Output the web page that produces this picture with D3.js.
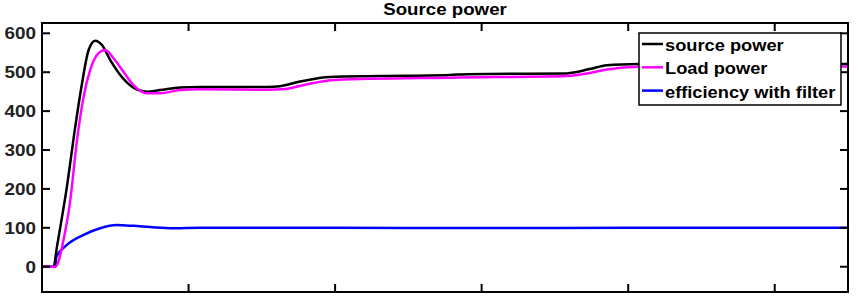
<!DOCTYPE html>
<html><head><meta charset="utf-8">
<script src="https://cdn.jsdelivr.net/npm/d3@7"></script>
<style>body{margin:0;background:#fff}svg{display:block}text{font-family:"Liberation Sans",Arial,sans-serif;font-weight:bold}</style>
</head><body><svg id="c" width="858" height="296"></svg>
<script>
const title = "Source power";
const seriesNames = ["source power", "Load power", "efficiency with filter"];
const seriesColors = ["#000000", "#ff00ff", "#0000ff"];
const yTicks = [0, 100, 200, 300, 400, 500, 600];
const xTicks = [1, 2, 3, 4, 5];
const sourceT = [0, 0.079, 0.102, 0.170, 0.227, 0.273, 0.318, 0.363, 0.409, 0.466, 0.534, 0.622, 0.716, 0.806, 0.943, 1.079, 1.534, 1.624, 1.761, 1.965, 2.306, 2.783, 2.899, 3.581, 3.738, 3.854, 4.078, 4.488, 5.5];
const sourceV = [0, 0, 51, 206, 360, 471, 557, 581, 570, 531, 493, 461, 450, 454, 461, 462, 462, 464, 476, 488, 490, 493, 495, 497, 508, 518, 521, 522, 521];
const loadT = [0, 0.091, 0.147, 0.193, 0.239, 0.284, 0.329, 0.386, 0.431, 0.488, 0.556, 0.624, 0.716, 0.806, 0.943, 1.079, 1.534, 1.658, 1.795, 2.0, 2.783, 3.581, 3.738, 3.854, 4.078, 5.5];
const loadV = [0, 0, 69, 171, 326, 437, 506, 549, 557, 536, 501, 467, 446, 446, 454, 456, 455, 457, 468, 480, 486, 490, 498, 507, 514, 515];
const effT = [0, 0.091, 0.097, 0.170, 0.284, 0.397, 0.511, 0.624, 0.738, 0.897, 1.079, 2.0, 3.0, 4.0, 5.5];
const effV = [0, 0, 24, 56, 82, 99, 107, 105, 102, 99, 100, 100, 99.5, 100, 100];

const svg = d3.select("#c");
const L = 42, R = 848, T = 23, B = 292;
const x = d3.scaleLinear().domain([0, 5.5]).range([L, R]);
const y = d3.scaleLinear().domain([-65, 626.5]).range([B, T]);

// title
svg.append("text").attr("transform", `translate(${(L+R)/2},15) scale(1.1,1)`)
  .attr("text-anchor", "middle").attr("font-size", 17).text(title);

const series = [
  {t: sourceT, v: sourceV, c: 0}, {t: loadT, v: loadV, c: 1}, {t: effT, v: effV, c: 2}
];
const drawOrder = [2, 0, 1];
const line = d3.line().x(d => x(d[0])).y(d => y(d[1])).curve(d3.curveMonotoneX);
const g = svg.append("g");
drawOrder.forEach(i => {
  const s = series[i];
  g.append("path").datum(s.t.map((t, k) => [t, s.v[k]]))
    .attr("d", line).attr("fill", "none").attr("stroke", seriesColors[s.c])
    .attr("stroke-width", 2.5).attr("stroke-linejoin", "round");
});

// axes (inward ticks, box)
const ax = svg.append("g").attr("stroke", "#000").attr("stroke-width", 2);
ax.append("rect").attr("x", L).attr("y", T).attr("width", R - L).attr("height", B - T).attr("fill", "none");
xTicks.forEach(t => {
  ax.append("line").attr("x1", x(t)).attr("x2", x(t)).attr("y1", B).attr("y2", B - 8);
  ax.append("line").attr("x1", x(t)).attr("x2", x(t)).attr("y1", T).attr("y2", T + 8);
});
yTicks.forEach(v => {
  ax.append("line").attr("x1", L).attr("x2", L + 8).attr("y1", y(v)).attr("y2", y(v));
  ax.append("line").attr("x1", R).attr("x2", R - 8).attr("y1", y(v)).attr("y2", y(v));
  svg.append("text").attr("transform", `translate(${L - 6},${y(v) + 6}) scale(1.18,1)`)
    .attr("text-anchor", "end").attr("font-size", 16).attr("fill", "#222").text(v);
});

// legend
const lg = svg.append("g");
lg.append("rect").attr("x", 639).attr("y", 33).attr("width", 202).attr("height", 72)
  .attr("fill", "#fff").attr("stroke", "#000").attr("stroke-width", 1.5);
seriesNames.forEach((n, i) => {
  const by = 51 + i * 23.3;
  lg.append("line").attr("x1", 642).attr("x2", 663).attr("y1", by - 7).attr("y2", by - 7)
    .attr("stroke", seriesColors[i]).attr("stroke-width", 2.5);
  lg.append("text").attr("transform", `translate(665,${by}) scale(1.12,1)`)
    .attr("font-size", 16.3).text(n);
});
</script></body></html>
